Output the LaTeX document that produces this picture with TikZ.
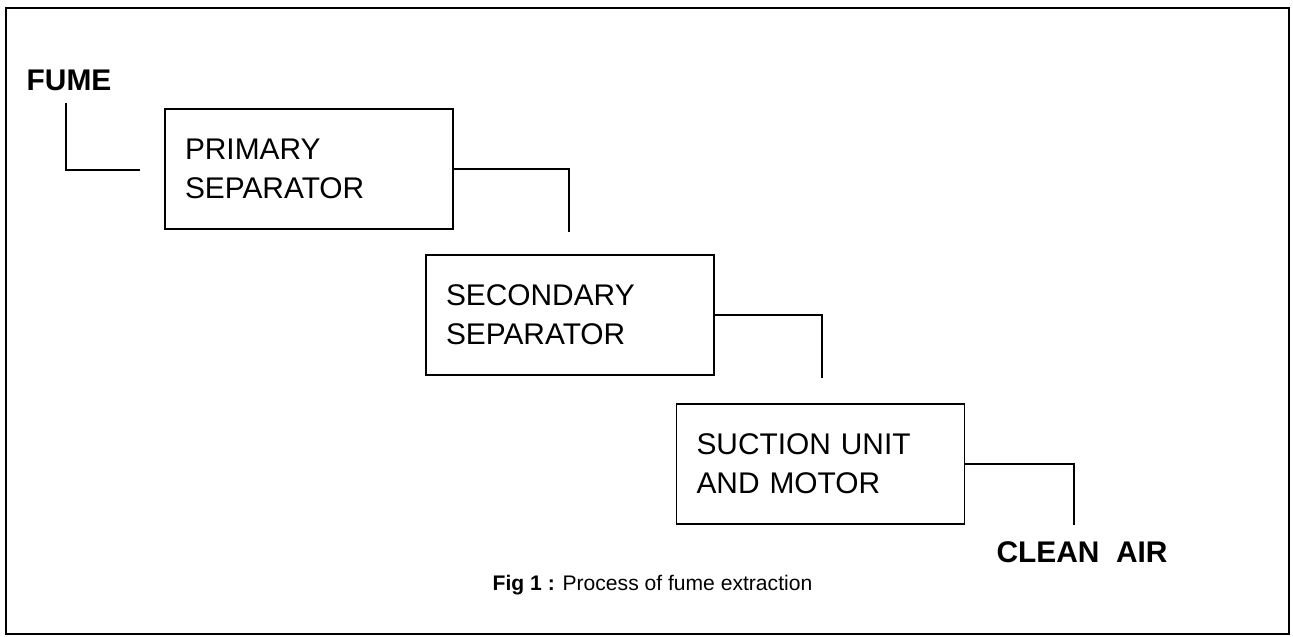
\documentclass[tikz,border=0pt]{standalone}
\usepackage{fontspec}
\setmainfont{Liberation Sans}
\begin{document}
\begin{tikzpicture}[line width=0.9pt,
  unitbox/.style={draw, line width=1.1pt, minimum height=2.4cm, text width=4.96cm,
    inner xsep=0.4cm, align=left, font=\fontsize{17}{22}\selectfont},
  flowlabel/.style={inner sep=0pt, font=\fontsize{17}{20}\selectfont\bfseries}]
  \useasboundingbox (0,0) rectangle (25.86,-12.74);
  \draw[line width=1.4pt] (0.12,-0.16) rectangle (25.78,-12.68);
  \node[unitbox] (primary) at (6.180,-3.380) {PRIMARY\\SEPARATOR};
  \node[unitbox] (secondary) at (11.400,-6.300) {SECONDARY\\SEPARATOR};
  \node[unitbox] (suction) at (16.410,-9.280) {SUCTION UNIT\\AND MOTOR};
  \node[flowlabel] (fume) at (1.380,-1.600) {FUME};
  \node[flowlabel] (clean) at (21.640,-11.040) {CLEAN\ \ AIR};
  \coordinate (fumetop) at (1.320,-2.060);
  \coordinate (fumein) at (2.800,-3.400);
  \coordinate (drop1) at (11.380,-4.640);
  \coordinate (drop2) at (16.440,-7.560);
  \coordinate (drop3) at (21.480,-10.500);
  \draw (fumetop) |- (fumein);
  \draw (primary.east) -| (drop1);
  \draw (secondary.east) -| (drop2);
  \draw (suction.east) -| (drop3);
  \node[font=\fontsize{12}{14}\selectfont, inner sep=0pt] (caption) at (13.050,-11.700)
    {\textbf{Fig 1 :} Process of fume extraction};
\end{tikzpicture}
\end{document}
